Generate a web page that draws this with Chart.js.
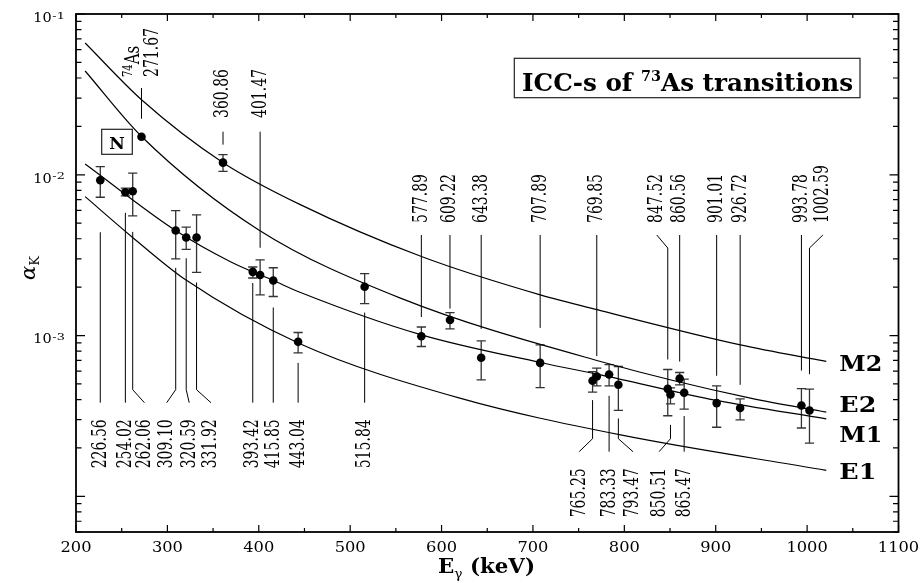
<!DOCTYPE html>
<html>
<head>
<meta charset="utf-8">
<script src="https://cdn.jsdelivr.net/npm/chart.js@4.4.1/dist/chart.umd.min.js"></script>
<style>
  html, body { margin: 0; padding: 0; background: #fff; }
  #wrap { width: 920px; height: 583px; position: relative; }
</style>
</head>
<body>
<div id="wrap"><canvas id="icc"></canvas></div>
<script>
const energies = [226.56, 254.02, 262.06, 271.67, 309.10, 320.59, 331.92, 360.86, 393.42, 401.47,
  415.85, 443.04, 515.84, 577.89, 609.22, 643.38, 707.89, 765.25, 769.85, 783.33,
  793.47, 847.52, 850.51, 860.56, 865.47, 901.01, 926.72, 993.78, 1002.59];
const alphaK = [0.00925, 0.00779, 0.0079, 0.01725, 0.0045, 0.00407, 0.00407, 0.0119, 0.00249, 0.00238,
  0.0022, 0.000914, 0.00201, 0.00099, 0.00125, 0.000727, 0.000676, 0.000523, 0.000556, 0.000572,
  0.000494, 0.000466, 0.00043, 0.00054, 0.000441, 0.00038, 0.000354, 0.000367, 0.000342];
const alphaHi = [0.01125, 0.00825, 0.01023, 0.01725, 0.00598, 0.00472, 0.00563, 0.01334, 0.00267, 0.00296,
  0.00264, 0.001045, 0.00243, 0.00113, 0.00139, 0.000927, 0.000875, 0.000597, 0.000627, 0.00066,
  0.000642, 0.000615, 0.000473, 0.000589, 0.000536, 0.000487, 0.000404, 0.000468, 0.000464];
const alphaLo = [0.00725, 0.00739, 0.00555, 0.01725, 0.0030, 0.00344, 0.00247, 0.01051, 0.00228, 0.00179,
  0.00175, 0.00078, 0.00158, 0.000855, 0.0011, 0.00053, 0.000475, 0.000445, 0.000487, 0.000487,
  0.000342, 0.000317, 0.000376, 0.000494, 0.000349, 0.000269, 0.000299, 0.000266, 0.000214];

// theoretical curves
const m2E = [210, 272, 361, 446, 578, 708, 774, 927, 1021];
const m2A = [0.066, 0.0292, 0.0119, 0.0065, 0.0031, 0.00179, 0.00143, 0.000875, 0.00069];
const e2E = [210, 272, 400, 555, 774, 938, 1021];
const e2A = [0.0442, 0.01725, 0.00454, 0.00171, 0.00069, 0.000408, 0.000334];
const m1E = [210, 309, 369, 416, 445, 578, 708, 774, 901, 1021];
const m1A = [0.01168, 0.0045, 0.00288, 0.0022, 0.00186, 0.00101, 0.00068, 0.00057, 0.000395, 0.000303];
const e1E = [210, 261, 320, 445, 620, 796, 1021];
const e1A = [0.00731, 0.00412, 0.00222, 0.00089, 0.000408, 0.000241, 0.000145];
const curveNames = ['M2', 'E2', 'M1', 'E1'];

const xTicks = [200, 300, 400, 500, 600, 700, 800, 900, 1000, 1100];
const yTickValues = [1e-1, 1e-2, 1e-3];
const yTickExp = ['-1', '-2', '-3'];

// label layout (pixels): row, sideways shift of the text, gap to the error bar
const labelRow = ['d1', 'd1', 'd1', 'u0', 'd1', 'd1', 'd1', 'u1', 'd1', 'u1',
  'd1', 'd1', 'd1', 'u2', 'u2', 'u2', 'u2', 'd2', 'u2', 'd2',
  'd2', 'u2', 'd2', 'u2', 'd2', 'u2', 'u2', 'u2', 'u2'];
const labelShift = [0, 0, 11.7, 0, -9, 3, 14.4, 0, 0, 0,
  0, 0, 0, 0, 0, 0, 0, -13.4, 0, 0,
  14.6, -11, -11.4, 0, 0, 0, 0, 0, 13.4];
const labelGap = [35, 17, 16, 18, 9, 9, 10, 10, 5, 12,
  11, 10, 9, 10, 4, 12, 17, 8, 12, 10,
  8, 10, 21, 11, 7, 10, 14, 18, 15];
const ROWS = {
  u0: { text: 77, line: 88 }, u1: { text: 118, line: 131.7 }, u2: { text: 223, line: 235 },
  d1: { text: 419.3, line: 402.7 }, d2: { text: 468.3, line: 451.7 }
};
const curveLabelY = [370.5, 411.5, 441.5, 479];

const SERIF = '"DejaVu Serif", serif';

function drawRuns(ctx, runs, x, y, o) {
  ctx.save();
  let w = 0;
  const ws = runs.map(r => { ctx.font = r[1]; const m = ctx.measureText(r[0]).width; w += m; return m; });
  const sx = o.width ? o.width / w : (o.sx || 1);
  const sy = o.sy || 1;
  ctx.translate(x, y);
  if (o.rot) ctx.rotate(-Math.PI / 2);
  ctx.scale(sx, sy);
  let cx = o.align === 'right' ? -w : o.align === 'center' ? -w / 2 : 0;
  ctx.textBaseline = o.baseline || 'alphabetic';
  ctx.textAlign = 'left';
  ctx.fillStyle = '#000';
  runs.forEach((r, i) => { ctx.font = r[1]; ctx.fillText(r[0], cx, r[2] || 0); cx += ws[i]; });
  ctx.restore();
}

const decor = {
  id: 'decor',
  beforeDatasetsDraw(chart) {
    const ctx = chart.ctx, xs = chart.scales.x, ys = chart.scales.y;
    ctx.save();
    // error bars
    ctx.strokeStyle = '#333';
    ctx.lineWidth = 1.3;
    energies.forEach((e, i) => {
      if (alphaHi[i] === alphaLo[i]) return;
      const px = xs.getPixelForValue(e);
      const yh = ys.getPixelForValue(alphaHi[i]), yl = ys.getPixelForValue(alphaLo[i]);
      ctx.beginPath();
      ctx.moveTo(px, yh); ctx.lineTo(px, yl);
      ctx.moveTo(px - 4.6, yh); ctx.lineTo(px + 4.6, yh);
      ctx.moveTo(px - 4.6, yl); ctx.lineTo(px + 4.6, yl);
      ctx.stroke();
    });
    // label lines
    ctx.strokeStyle = '#000';
    ctx.lineWidth = 1;
    energies.forEach((e, i) => {
      const px = xs.getPixelForValue(e);
      const lx = px + labelShift[i];
      const row = ROWS[labelRow[i]];
      const bend = 13;
      ctx.beginPath();
      if (labelRow[i][0] === 'u') {
        const yEnd = ys.getPixelForValue(alphaHi[i]) - labelGap[i];
        ctx.moveTo(lx, row.line);
        if (labelShift[i]) ctx.lineTo(px, row.line + bend);
        ctx.lineTo(px, yEnd);
      } else {
        const yStart = ys.getPixelForValue(alphaLo[i]) + labelGap[i];
        ctx.moveTo(px, yStart);
        if (labelShift[i]) ctx.lineTo(px, row.line - bend);
        ctx.lineTo(lx, row.line);
      }
      ctx.stroke();
    });
    ctx.restore();
  },
  afterDraw(chart) {
    const ctx = chart.ctx, xs = chart.scales.x, ys = chart.scales.y;
    const a = chart.chartArea;
    ctx.save();
    ctx.strokeStyle = '#000';
    // x ticks (inward, top and bottom)
    ctx.lineWidth = 1.2;
    ctx.beginPath();
    for (let v = 200; v <= 1100; v += 50) {
      const px = xs.getPixelForValue(v);
      const len = v % 100 === 0 ? 7 : 4;
      ctx.moveTo(px, a.bottom); ctx.lineTo(px, a.bottom - len);
      ctx.moveTo(px, a.top); ctx.lineTo(px, a.top + len);
    }
    // y ticks (log, inward, left and right)
    for (let d = -5; d <= -1; d++) {
      for (let m = 1; m <= 9; m++) {
        const v = m * Math.pow(10, d);
        if (v < ys.min * 0.999 || v > ys.max * 1.001) continue;
        const py = ys.getPixelForValue(v);
        const len = m === 1 ? 9 : 5.5;
        ctx.moveTo(a.left, py); ctx.lineTo(a.left + len, py);
        ctx.moveTo(a.right, py); ctx.lineTo(a.right - len, py);
      }
    }
    ctx.stroke();
    // frame
    ctx.lineWidth = 1.8;
    ctx.strokeRect(a.left, a.top, a.right - a.left, a.bottom - a.top);

    // x tick labels
    xTicks.forEach(v => {
      drawRuns(ctx, [[String(v), '14px ' + SERIF]], xs.getPixelForValue(v), 551.7, { align: 'center', sx: 1.16 });
    });
    // y tick labels
    yTickValues.forEach((v, i) => {
      const py = ys.getPixelForValue(v);
      drawRuns(ctx, [['10', '12.5px ' + SERIF]], 33.3, py + 7.8, { width: 18.4 });
      drawRuns(ctx, [[yTickExp[i], '9px ' + SERIF]], 52.3, py + 4.5, { width: 12.5 });
    });
    // axis titles
    drawRuns(ctx, [['E', 'bold 20px ' + SERIF], ['\u03b3', '13px ' + SERIF, 5], [' (keV)', 'bold 20px ' + SERIF]],
      438, 573.3, { width: 97 });
    drawRuns(ctx, [['\u03b1', 'italic 21px ' + SERIF], ['K', '13px ' + SERIF, 4]], 35, 268, { rot: true, align: 'center' });

    // transition labels
    energies.forEach((e, i) => {
      const px = xs.getPixelForValue(e);
      const row = ROWS[labelRow[i]];
      const txt = e.toFixed(2);
      const f = '14px ' + SERIF;
      if (labelRow[i] === 'u0') {
        drawRuns(ctx, [[txt, f]], px + 11, row.text, { rot: true, align: 'left', baseline: 'middle', sy: 1.5 });
        drawRuns(ctx, [['74', '10px ' + SERIF, -4], ['As', '15px ' + SERIF]], px - 8, row.text,
          { rot: true, align: 'left', baseline: 'middle', sy: 1.35 });
      } else if (labelRow[i][0] === 'u') {
        drawRuns(ctx, [[txt, f]], px + labelShift[i], row.text, { rot: true, align: 'left', baseline: 'middle', sy: 1.5 });
      } else {
        drawRuns(ctx, [[txt, f]], px + labelShift[i], row.text, { rot: true, align: 'right', baseline: 'middle', sy: 1.5 });
      }
    });

    // curve names
    curveNames.forEach((n, i) => {
      drawRuns(ctx, [[n, 'bold 22px ' + SERIF]], 839.3, curveLabelY[i], { width: n[0] === 'M' ? 43 : 37 });
    });

    // boxes
    ctx.lineWidth = 1.2;
    ctx.strokeStyle = '#222';
    ctx.strokeRect(101.7, 129.3, 30.6, 25);
    drawRuns(ctx, [['N', 'bold 17px ' + SERIF]], 117, 148.5, { align: 'center' });
    ctx.strokeRect(514.3, 58.3, 345.7, 39.4);
    drawRuns(ctx, [['ICC-s of ', 'bold 24px ' + SERIF], ['73', 'bold 14px ' + SERIF, -10], ['As transitions', 'bold 24px ' + SERIF]],
      522, 90.7, { width: 331 });
    ctx.restore();
  }
};

const toPts = (xsArr, ysArr) => xsArr.map((x, i) => ({ x: x, y: ysArr[i] }));
const curveData = [toPts(m2E, m2A), toPts(e2E, e2A), toPts(m1E, m1A), toPts(e1E, e1A)];

new Chart(document.getElementById('icc').getContext('2d'), {
  type: 'scatter',
  data: {
    datasets: curveData.map((d, i) => ({
      label: curveNames[i],
      data: d,
      showLine: true,
      pointRadius: 0,
      borderColor: '#000',
      borderWidth: 1.2,
      cubicInterpolationMode: 'monotone',
      fill: false
    })).concat([{
      label: 'alpha K',
      data: energies.map((e, i) => ({ x: e, y: alphaK[i] })),
      pointRadius: 4.3,
      pointBackgroundColor: '#000',
      pointBorderWidth: 0,
      showLine: false
    }])
  },
  options: {
    responsive: true,
    maintainAspectRatio: false,
    animation: false,
    layout: { padding: { left: 76, right: 21.5, top: 14, bottom: 51 } },
    plugins: { legend: { display: false }, tooltip: { enabled: false } },
    scales: {
      x: { type: 'linear', min: 200, max: 1100, display: false },
      y: { type: 'logarithmic', min: 6e-5, max: 0.1, display: false }
    }
  },
  plugins: [decor]
});
</script>
</body>
</html>
